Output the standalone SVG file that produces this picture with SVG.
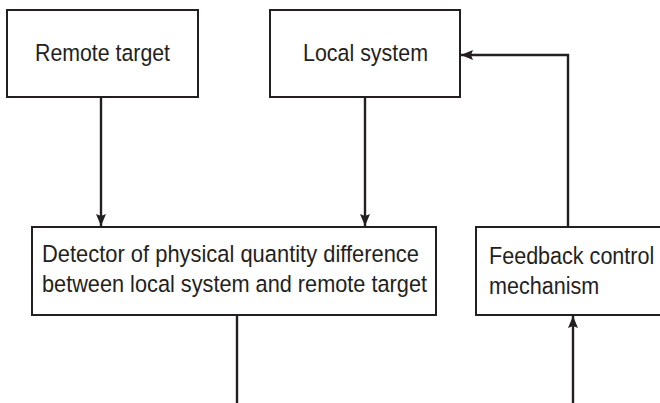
<svg xmlns="http://www.w3.org/2000/svg" width="660" height="403" viewBox="0 0 660 403">
<style>
.box{fill:#fff;stroke:#231f20;stroke-width:2}
.ln{fill:none;stroke:#231f20;stroke-width:2.4}
text{font-family:"Liberation Sans","Roboto",sans-serif;font-size:24.5px;fill:#231f20}
</style>
<defs>
<marker id="ah" viewBox="0 0 12 10" refX="12" refY="5" markerWidth="12" markerHeight="10" markerUnits="userSpaceOnUse" orient="auto">
<path d="M0,0 L12,5 L0,10 L2,5 Z" fill="#231f20"/>
</marker>
</defs>
<rect width="660" height="403" fill="#fff"/>
<g id="connectors">
<line class="ln" x1="101" y1="97" x2="101" y2="226" marker-end="url(#ah)"/>
<line class="ln" x1="365" y1="97" x2="365" y2="226" marker-end="url(#ah)"/>
<polyline class="ln" points="568,227 568,55 461,55" marker-end="url(#ah)"/>
<line class="ln" x1="237" y1="315" x2="237" y2="403"/>
<line class="ln" x1="573" y1="403" x2="573" y2="316" marker-end="url(#ah)"/>
</g>
<g id="remote-target">
<rect class="box" x="7" y="10" width="191" height="87"/>
<text x="35" y="61" textLength="135" lengthAdjust="spacingAndGlyphs">Remote target</text>
</g>
<g id="local-system">
<rect class="box" x="270" y="10" width="190" height="87"/>
<text x="303" y="61" textLength="125" lengthAdjust="spacingAndGlyphs">Local system</text>
</g>
<g id="detector">
<rect class="box" x="32" y="227" width="404" height="88"/>
<text x="42" y="262" textLength="377" lengthAdjust="spacingAndGlyphs">Detector of physical quantity difference</text>
<text x="42" y="292" textLength="385" lengthAdjust="spacingAndGlyphs">between local system and remote target</text>
</g>
<g id="feedback">
<rect class="box" x="476" y="227" width="200" height="88"/>
<text transform="translate(489,264) scale(0.88,1)" x="0" y="0">Feedback control</text>
<text transform="translate(489,294) scale(0.88,1)" x="0" y="0">mechanism</text>
</g>
</svg>
